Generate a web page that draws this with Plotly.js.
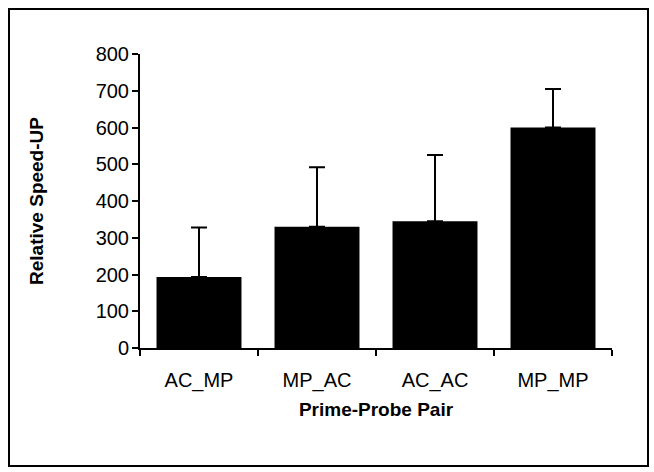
<!DOCTYPE html>
<html>
<head>
<meta charset="utf-8">
<script src="https://cdn.plot.ly/plotly-3.0.1.min.js"></script>
<style>
  html, body { margin: 0; padding: 0; background: #fff; }
  #chart { width: 654px; height: 472px; }
</style>
</head>
<body>
<div id="chart"></div>
<script>
const categories = ['AC_MP', 'MP_AC', 'AC_AC', 'MP_MP'];
const speedUp = [193, 330, 345, 600];
const speedUpError = [135, 162, 180, 105];
const yTickValues = [0, 100, 200, 300, 400, 500, 600, 700, 800];

const L = 140, R = 42, T = 54, B = 124;
const W = 654, H = 472;
const pw = W - L - R, ph = H - T - B;
function px2x(px) { return (px - L) / pw; }
function py2y(py) { return (H - B - py) / ph; }

const trace = {
  type: 'bar',
  x: categories,
  y: speedUp,
  marker: { color: '#000000', line: { width: 0 } },
  error_y: {
    type: 'data',
    symmetric: false,
    array: speedUpError,
    arrayminus: speedUpError.map(() => 0),
    color: '#000000',
    thickness: 2,
    width: 8,
    visible: true
  },
  hoverinfo: 'none'
};

const font = { family: 'Liberation Sans, Arial, sans-serif', color: '#000000' };

const layout = {
  width: W,
  height: H,
  margin: { l: L, r: R, t: T, b: B, pad: 0 },
  paper_bgcolor: '#ffffff',
  plot_bgcolor: '#ffffff',
  showlegend: false,
  bargap: 0.28,
  font: font,
  xaxis: {
    type: 'category',
    range: [-0.5, 3.5],
    showline: true,
    linecolor: '#000000',
    linewidth: 2,
    ticks: 'outside',
    tickson: 'boundaries',
    ticklen: 6,
    tickwidth: 2,
    tickcolor: '#000000',
    showgrid: false,
    zeroline: false,
    tickfont: { family: font.family, size: 20, color: '#000' },
    ticklabelstandoff: 13,
    title: { text: 'Prime-Probe Pair', font: { family: font.family, size: 19, color: '#000', weight: 'bold' }, standoff: 12 }
  },
  yaxis: {
    range: [0, 800],
    tickvals: yTickValues,
    ticktext: yTickValues.map(String),
    showline: true,
    linecolor: '#000000',
    linewidth: 2,
    ticks: 'outside',
    ticklen: 6,
    tickwidth: 2,
    tickcolor: '#000000',
    showgrid: false,
    zeroline: false,
    tickfont: { family: font.family, size: 20, color: '#000' },
    ticklabelstandoff: -1,
    title: { text: 'Relative Speed-UP', font: { family: font.family, size: 19, color: '#000', weight: 'bold' }, standoff: 47 }
  },
  shapes: [{
    type: 'rect',
    xref: 'paper', yref: 'paper',
    x0: px2x(9), x1: px2x(648),
    y0: py2y(466), y1: py2y(9),
    line: { color: '#000000', width: 2 },
    fillcolor: 'rgba(0,0,0,0)',
    layer: 'above'
  }]
};

Plotly.newPlot('chart', [trace], layout, { staticPlot: true, displayModeBar: false });
</script>
</body>
</html>
